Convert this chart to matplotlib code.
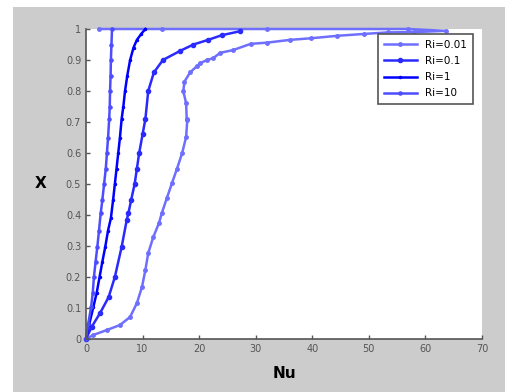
import matplotlib
matplotlib.use("Agg")
import matplotlib.pyplot as plt
from matplotlib.patches import Rectangle

labels = ["Ri=0.01", "Ri=0.1", "Ri=1", "Ri=10"]
colors = ["#6f6fff", "#2a2aff", "#0000ff", "#4d4dff"]
markers = [".", "o", ".", "."]
msizes = [5, 3, 3, 4.5]

# Ri=0.01 (rightmost curve, its last points run back along X=1)
nu_001 = [0.0, 1.3, 3.7, 6.0, 7.8, 9.0, 9.9, 10.5, 11.0, 11.9, 12.9, 13.4, 14.3, 15.2,
          16.1, 17.0, 17.7, 17.9, 17.8, 17.7, 17.2, 17.4, 18.4, 19.6, 20.2, 21.4, 22.5,
          23.7, 26.0, 29.1, 32.0, 36.1, 39.7, 44.4, 49.1, 53.3, 58.0, 63.6, 57.0, 32.0,
          13.4, 2.3]
x_001 = [0.0, 0.013, 0.029, 0.045, 0.071, 0.116, 0.168, 0.223, 0.277, 0.329, 0.374, 0.406,
         0.455, 0.503, 0.55, 0.6, 0.652, 0.706, 0.71, 0.76, 0.80, 0.83, 0.86, 0.88, 0.89,
         0.90, 0.906, 0.923, 0.932, 0.952, 0.956, 0.965, 0.97, 0.978, 0.984, 0.989, 0.99,
         0.994, 1.0, 1.0, 1.0, 1.0]

# Ri=0.1
nu_01 = [0.0, 1.0, 2.5, 4.0, 5.1, 6.3, 7.2, 7.5, 8.0, 8.6, 9.0, 9.4, 10.0, 10.5, 11.0,
         12.0, 13.6, 16.7, 19.0, 21.6, 24.0, 27.3]
x_01 = [0.0, 0.039, 0.084, 0.135, 0.2, 0.297, 0.384, 0.406, 0.45, 0.5, 0.55, 0.6, 0.66,
        0.71, 0.8, 0.86, 0.9, 0.93, 0.95, 0.965, 0.98, 0.993]

# Ri=1
nu_1 = [0.0, 0.6, 1.3, 1.9, 2.4, 2.9, 3.4, 3.9, 4.4, 4.8, 5.1, 5.4, 5.7, 6.0, 6.3, 6.6,
        6.9, 7.3, 7.8, 8.4, 9.0, 9.8, 10.5]
x_1 = [0.0, 0.05, 0.103, 0.15, 0.2, 0.25, 0.297, 0.35, 0.39, 0.45, 0.5, 0.55, 0.6, 0.65,
       0.71, 0.75, 0.8, 0.85, 0.9, 0.94, 0.965, 0.985, 1.0]

# Ri=10
nu_10 = [0.0, 0.4, 0.9, 1.2, 1.4, 1.7, 2.0, 2.3, 2.6, 2.9, 3.2, 3.5, 3.7, 3.9, 4.1, 4.2,
         4.25, 4.35, 4.4, 4.5, 4.6]
x_10 = [0.0, 0.05, 0.103, 0.15, 0.2, 0.25, 0.297, 0.35, 0.406, 0.45, 0.5, 0.55, 0.6,
        0.65, 0.71, 0.75, 0.8, 0.85, 0.9, 0.95, 1.0]

series = [(nu_001, x_001), (nu_01, x_01), (nu_1, x_1), (nu_10, x_10)]

fig = plt.figure(figsize=(5.06, 3.92), dpi=100)
fig.patch.set_facecolor("#cccccc")
# white strips along top and left edges of the screenshot
fig.patches.append(Rectangle((0, 0), 13 / 506, 1, transform=fig.transFigure,
                             facecolor="white", edgecolor="none", zorder=0))
fig.patches.append(Rectangle((0, 1 - 7 / 392), 1, 7 / 392, transform=fig.transFigure,
                             facecolor="white", edgecolor="none", zorder=0))

ax = fig.add_axes([86 / 506, 1 - 339 / 392, (482 - 86) / 506, (339 - 29) / 392])
ax.set_facecolor("white")

for (nu, xx), lab, c, m, ms in zip(series, labels, colors, markers, msizes):
    ax.plot(nu, xx, color=c, marker=m, markersize=ms, linewidth=1.8, label=lab,
            clip_on=False)

ax.set_xlim(0, 70)
ax.set_ylim(0, 1)
ax.set_xticks(range(0, 71, 10))
ax.set_yticks([i / 10 for i in range(11)])
ax.set_yticklabels(["0", "0.1", "0.2", "0.3", "0.4", "0.5", "0.6", "0.7", "0.8", "0.9", "1"])

for s in ["top", "right"]:
    ax.spines[s].set_visible(False)
for s in ["left", "bottom"]:
    ax.spines[s].set_color("#555555")
    ax.spines[s].set_linewidth(1.2)
ax.tick_params(direction="in", length=3, width=1, colors="#555555", labelsize=7,
               labelcolor="#555555")

ax.set_xlabel("Nu", fontsize=11, fontweight="bold", labelpad=9)
ax.set_ylabel("X", fontsize=11, fontweight="bold", rotation=0, labelpad=18, va="center")

leg = ax.legend(loc="upper right", bbox_to_anchor=(473 / 506, 1 - 34 / 392),
                bbox_transform=fig.transFigure, fontsize=7.5, fancybox=False,
                framealpha=1, edgecolor="#555555", handlelength=3.2,
                borderaxespad=0, labelspacing=0.6, borderpad=0.55)
leg.get_frame().set_linewidth(1.2)

fig.savefig("out.png", dpi=100, facecolor=fig.get_facecolor())
